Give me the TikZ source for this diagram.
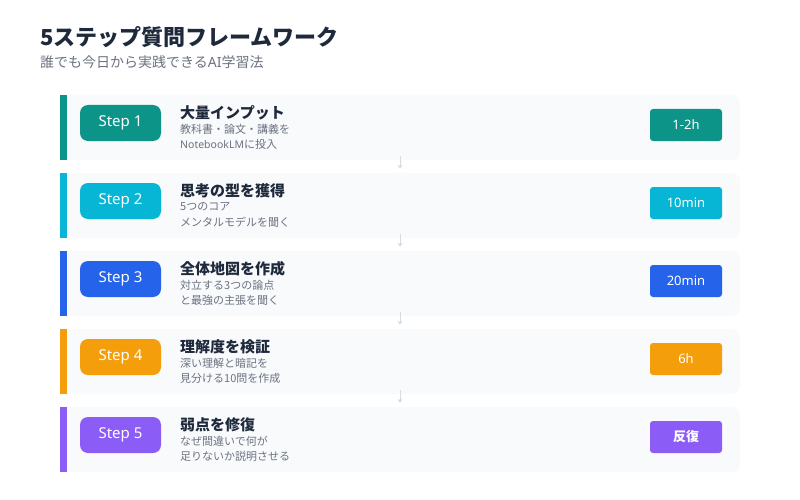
\documentclass[tikz,border=0pt]{standalone}
\usepackage{fontspec}
\setmainfont{Noto Sans CJK JP}
\newfontfamily\latinfont{Noto Sans}
\usetikzlibrary{arrows.meta}
\definecolor{colA}{HTML}{0D9488}
\definecolor{colB}{HTML}{06B6D4}
\definecolor{colC}{HTML}{2563EB}
\definecolor{colD}{HTML}{F59E0B}
\definecolor{colE}{HTML}{8B5CF6}
\definecolor{cardbg}{HTML}{F8FAFC}
\definecolor{darktext}{HTML}{1E293B}
\definecolor{graytext}{HTML}{6B7280}
\definecolor{arrowgray}{HTML}{D5DCE4}
\tikzset{
  card/.style={fill=cardbg, draw=none, rounded corners=8pt, minimum width=680pt, minimum height=65pt, inner sep=0pt},
  bar/.style={draw=none, minimum width=7pt, minimum height=65pt, inner sep=0pt},
  stepbadge/.style={draw=none, rounded corners=8pt, minimum width=81pt, minimum height=36pt, inner sep=0pt, text=white, font=\latinfont\fontsize{15}{18}\selectfont},
  timebadge/.style={draw=none, rounded corners=3pt, minimum width=72pt, minimum height=32pt, inner sep=0pt, text=white, font=\fontsize{13}{16}\selectfont},
  cardtitle/.style={anchor=west, inner sep=0pt, text=darktext, font=\bfseries\fontsize{15}{18}\selectfont},
  cardsub/.style={anchor=west, inner sep=0pt, text=graytext, font=\fontsize{11}{13}\selectfont},
  flow/.style={draw=arrowgray, line width=0.8pt, -{Stealth[length=4pt,width=5pt]}}
}
\begin{document}
\begin{tikzpicture}[x=1pt,y=-1pt]
\useasboundingbox[fill=white] (0,0) rectangle (800,500);
\node[anchor=west, inner sep=0pt, text=darktext, font=\bfseries\fontsize{22}{26}\selectfont] (title) at (40,37) {5ステップ質問フレームワーク};
\node[anchor=west, inner sep=0pt, text=graytext, font=\fontsize{14}{16}\selectfont] (subtitle) at (40,62) {誰でも今日から実践できる{\latinfont AI}学習法};
\foreach \i/\col/\ttl/\sa/\sb/\tm in {
  1/colA/大量インプット/教科書・論文・講義を/{\latinfont\fontsize{10.5}{13}\selectfont NotebookLM}に投入/{\latinfont\bfseries 1-2h},
  2/colB/思考の型を獲得/5つのコア/メンタルモデルを聞く/{\latinfont 10min},
  3/colC/全体地図を作成/対立する3つの論点/と最強の主張を聞く/{\latinfont 20min},
  4/colD/理解度を検証/深い理解と暗記を/見分ける10問を作成/{\latinfont 6h},
  5/colE/弱点を修復/なぜ間違いで何が/足りないか説明させる/{\bfseries 反復}}{
  \pgfmathsetmacro{\top}{95+78*(\i-1)}
  \node[card] (card\i) at (400,\top+32.5) {};
  \node[bar, fill=\col] (bar\i) at (63.5,\top+32.5) {};
  \node[stepbadge, fill=\col] (step\i) at (120.5,\top+28) {Step \i};
  \node[cardtitle] (ttl\i) at (180,\top+18) {\ttl};
  \node[cardsub] (sa\i) at (180,\top+34) {\sa};
  \node[cardsub] (sb\i) at (180,\top+49) {\sb};
  \node[timebadge, fill=\col] (time\i) at (686,\top+30) {\tm};
}
\foreach \i/\j in {1/2,2/3,3/4,4/5}{
  \draw[flow] ([yshift=4pt]card\i.south) -- ([yshift=4pt]card\j.north);
}
\end{tikzpicture}
\end{document}
